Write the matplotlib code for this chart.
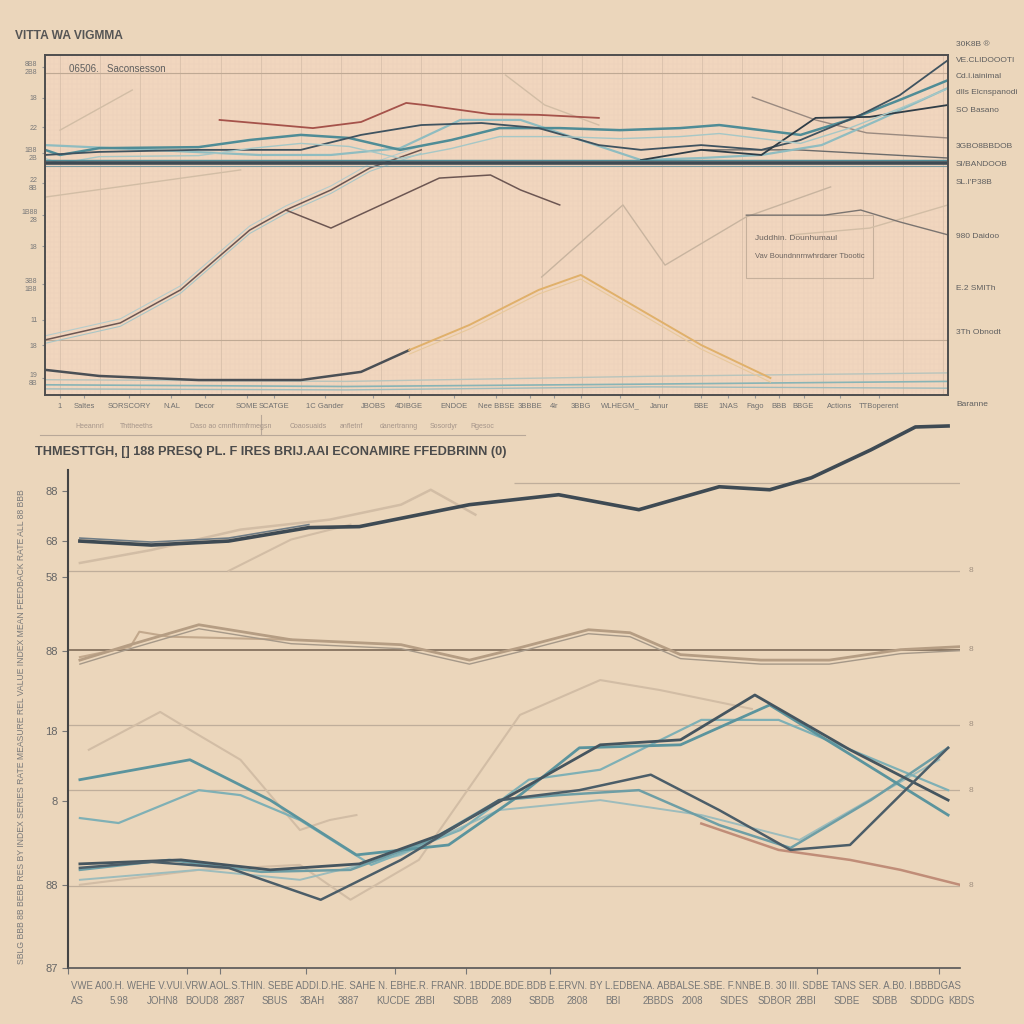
import numpy as np
import matplotlib.pyplot as plt
from matplotlib.patches import Rectangle

plt.rcParams['font.family'] = ['Liberation Sans', 'DejaVu Sans']

BG = '#ebd6bb'
PANEL = '#f1d6be'
DARK = '#3e4a53'
TEAL = '#4f8c96'
LTEAL = '#88b4b6'
TAN = '#b59d83'
FAINT = '#d2bda5'

# ---------------- top panel data (x: 0-30, y: 0-100) ----------------
top_flat_y = 68.2
t_red_x = [5.8, 8.9, 10.5, 12.0, 12.6, 14.8, 16.4, 18.4]
t_red_y = [80.9, 78.5, 80.3, 85.9, 85.3, 82.6, 82.4, 81.5]
t_teal_x = [0, 0.5, 1.8, 5.1, 6.8, 8.5, 10.1, 11.8, 13.5, 15.1, 17.1, 19.1, 21.1, 22.4, 25.1, 26.7, 28.4, 30.0]
t_teal_y = [72.1, 70.6, 72.6, 72.9, 75.0, 76.5, 75.6, 72.1, 75.0, 78.5, 78.5, 77.9, 78.5, 79.4, 76.5, 80.9, 86.8, 92.6]
t_slate_x = [0, 1.8, 5.1, 8.5, 10.5, 12.5, 14.5, 16.4, 18.4, 19.8, 21.8, 23.8, 25.1, 27.1, 28.4, 30.0]
t_slate_y = [70.6, 71.5, 72.1, 72.1, 76.5, 79.4, 80.0, 78.5, 73.5, 72.1, 73.5, 72.1, 75.0, 82.4, 88.2, 98.5]
t_light_x = [0, 3.5, 7.1, 9.5, 11.8, 13.8, 15.8, 17.8, 19.8, 21.8, 23.8, 25.8, 27.7, 30.0]
t_light_y = [73.5, 72.1, 70.6, 70.6, 72.6, 80.9, 80.9, 75.0, 69.1, 69.7, 70.6, 73.5, 80.9, 90.3]
t_dark2_x = [19.8, 21.8, 23.8, 25.6, 27.4, 30.0]
t_dark2_y = [69.1, 72.1, 70.6, 81.5, 81.8, 85.3]
t_gray_x = [23.5, 25.6, 27.3, 30.0]
t_gray_y = [87.6, 80.9, 77.1, 75.6]
t_gray2_x = [21.8, 25.0, 30.0]
t_gray2_y = [72.1, 72.1, 69.7]
t_rise_x = [0, 2.5, 4.5, 6.8, 8.0, 9.5, 10.8, 12.5]
t_rise_y = [16.2, 21.2, 30.9, 48.5, 54.4, 60.3, 66.8, 72.1]
t_v_x = [8.0, 9.5, 13.1, 14.8, 15.8, 17.1]
t_v_y = [54.4, 49.1, 63.8, 64.7, 60.3, 55.9]
t_low_x = [0, 1.8, 5.1, 8.5, 10.5, 12.1]
t_low_y = [7.4, 5.6, 4.4, 4.4, 6.8, 13.2]
t_orange_x = [12.1, 14.1, 16.4, 17.8, 19.8, 21.8, 24.1]
t_orange_y = [13.2, 20.6, 30.9, 35.3, 25.0, 14.7, 5.0]
t_box_x = [23.3, 25.9, 27.1, 28.4, 30.0]
t_box_y = [52.9, 52.9, 54.4, 50.9, 47.1]
t_mid_x = [16.5, 19.2, 20.6, 23.3, 26.1]
t_mid_y = [34.7, 55.9, 38.2, 52.4, 61.2]
t_faint_a = ([0.5, 2.9], [77.9, 89.7])
t_faint_b = ([15.3, 16.6, 18.4], [94.1, 85.3, 79.4])
t_faint_c = ([24.8, 27.4, 30.0], [47.1, 49.1, 55.9])
t_faint_d = ([0, 6.5], [58.2, 66.2])
t_base_x = [0, 10, 20, 30]
t_base_1 = [3.0, 2.5, 3.2, 4.0]
t_base_2 = [1.8, 1.5, 2.4, 2.0]
t_base_3 = [4.5, 4.0, 5.5, 6.5]

top_xtick_pos = [0.5, 1.3, 2.8, 4.2, 5.3, 6.7, 7.6, 9.3, 10.9, 12.1, 13.6, 15.0, 16.1, 16.9,
                 17.8, 19.1, 20.4, 21.8, 22.7, 23.6, 24.4, 25.2, 26.4, 27.7]
top_xtick_lab = ['1', 'Saltes', 'SORSCORY', 'N.AL', 'Decor', 'SOME', 'SCATGE', '1C Gander', 'JBOBS',
                 '4DIBGE', 'ENDOE', 'Nee BBSE', '3BBBE', '4lr', '3BBG', 'WLHEGM_', 'Janur', 'BBE',
                 '1NAS', 'Fago', 'BBB', 'BBGE', 'Actions', 'TTBoperent']
top_ytick_pos = [96.5, 87.4, 78.8, 71.2, 62.4, 52.9, 43.8, 32.6, 22.1, 14.7, 5.0]
top_ytick_lab = ['8B8\n2B8', '18', '22', '1B8\n2B', '22\n8B', '1B88\n28', '18', '3B8\n1B8', '11', '18', '19\n8B']
top_right_lab = [('30K8B \u00ae', 45), ('VE.CLIDOOOTI', 60), ('Cd.l.iainimal', 76), ('dlls Elcnspanodi', 93),
                 ('SO Basano', 110), ('3GBO8BBDOB', 146), ('SI/BANDOOB', 165), ('SL.I\'P38B', 183),
                 ('980 Daidoo', 237), ('E.2 SMITh', 289), ('3Th Obnodt', 333), ('Baranne', 405)]
legend_row = [('Heeannrl', 75), ('Thttheeths', 120), ('Daso ao cmnfhrmfrmegsn', 190), ('Coaosuaids', 290),
              ('anfletnf', 340), ('danertranng', 380), ('Sosordyr', 430), ('Rgesoc', 470)]

# ---------------- bottom panel data (x: 0-30, y: 0-110) ----------------
b_main_x = [0.4, 2.8, 5.4, 8.1, 9.8, 13.5, 16.5, 19.2, 21.9, 23.6, 25.0, 27.0, 28.5, 29.6]
b_main_y = [85.7, 84.9, 85.7, 88.4, 88.6, 93.0, 95.0, 92.0, 96.6, 96.0, 98.4, 104.0, 108.6, 108.8]
b_beige1_x = [0.4, 2.8, 5.8, 8.8, 11.2, 12.2, 13.7]
b_beige1_y = [81.3, 83.9, 88.0, 90.0, 93.0, 96.0, 91.0]
b_beige2_x = [5.4, 7.5, 9.5]
b_beige2_y = [79.7, 86.0, 89.0]
b_tan_x = [0.4, 2.1, 4.4, 7.5, 11.2, 13.5, 15.2, 17.5, 18.9, 20.6, 23.3, 25.6, 28.0, 30.0]
b_tan_y = [61.8, 64.9, 68.9, 65.9, 64.9, 61.8, 64.3, 67.9, 67.3, 62.9, 61.8, 61.8, 63.9, 64.5]
b_tan2_x = [0.4, 2.1, 2.4, 3.4, 7.5]
b_tan2_y = [62.4, 64.5, 67.5, 66.5, 65.9]
b_ref_lines = [97.4, 79.7, 48.8, 35.7, 16.5]
b_ref_mid = 63.9
b_sa_x = [0.4, 2.8, 5.4, 8.5, 11.2, 14.5, 17.2, 19.6, 21.9, 24.3, 26.3, 29.6]
b_sa_y = [20.1, 21.3, 20.1, 13.7, 21.7, 33.7, 35.7, 38.8, 31.7, 23.7, 24.7, 44.2]
b_sb_x = [0.4, 3.8, 6.8, 9.8, 12.5, 15.2, 17.9, 20.6, 23.1, 26.3, 29.6]
b_sb_y = [20.9, 21.7, 19.7, 20.9, 26.7, 35.7, 44.8, 45.8, 54.8, 43.8, 33.7]
b_sc_x = [0.4, 4.1, 6.8, 9.7, 12.8, 15.2, 17.2, 20.6, 23.6, 26.6, 29.6]
b_sc_y = [37.8, 41.8, 33.7, 22.7, 24.7, 34.7, 44.2, 44.8, 52.8, 41.8, 30.7]
b_sd_x = [0.4, 1.7, 4.4, 5.8, 7.8, 10.2, 13.2, 15.5, 17.9, 21.3, 23.9, 29.6]
b_sd_y = [30.1, 29.1, 35.7, 34.7, 29.7, 20.7, 27.7, 37.8, 39.8, 49.8, 49.8, 35.7]
b_se_x = [0.4, 3.4, 6.5, 9.5, 12.2, 14.5, 16.5, 19.2, 21.9, 24.3, 27.0, 29.6]
b_se_y = [19.7, 21.7, 19.3, 19.7, 25.7, 33.7, 34.7, 35.7, 28.7, 24.1, 33.7, 44.2]
b_sf_x = [0.4, 4.4, 7.8, 11.2, 14.5, 17.9, 21.3, 24.6, 29.3]
b_sf_y = [17.7, 19.7, 17.7, 22.7, 31.7, 33.7, 30.7, 25.7, 41.8]
b_red_x = [21.3, 23.9, 26.3, 28.0, 30.0]
b_red_y = [29.0, 23.7, 21.7, 19.7, 16.7]
b_faint1_x = [0.4, 4.4, 7.8, 9.5, 11.8, 15.2, 17.9, 19.9, 23.0]
b_faint1_y = [16.7, 19.7, 20.7, 13.7, 21.7, 50.8, 57.8, 55.8, 52.0]
b_faint2_x = [0.7, 3.1, 4.1, 5.8, 7.8, 8.8, 9.7]
b_faint2_y = [43.8, 51.4, 47.8, 41.8, 27.7, 29.7, 30.7]
b_ytick_pos = [95.8, 85.7, 78.5, 63.7, 47.6, 33.5, 16.7, 0]
b_ytick_lab = ['88', '68', '58', '88', '18', '8', '88', '87']
b_xtick_pos = [0.0, 4.0, 5.1, 8.0, 11.0, 13.4, 16.2, 25.2, 29.3]
b_row1 = ('VWE A00.H. WEHE V.VUI.VRW.AOL.S.THIN. SEBE ADDI.D.HE. SAHE N. EBHE.R. FRANR. 1BDDE.BDE.BDB '
          'E.ERVN. BY L.EDBENA. ABBALSE.SBE. F.NNBE.B. 30 III. SDBE TANS SER. A.B0. I.BBBDGAS')
b_row2 = ['AS', '5.98', 'JOHN8', 'BOUD8', '2887', 'SBUS', '3BAH', '3887', 'KUCDE', '2BBI', 'SDBB', '2089',
          'SBDB', '2808', 'BBI', '2BBDS', '2008', 'SIDES', 'SDBOR', '2BBI', 'SDBE', 'SDBB', 'SDDDG', 'KBDS']
b_right_lab = [79.7, 63.9, 48.8, 35.7, 16.5]

fig = plt.figure(figsize=(10.24, 10.24), dpi=100, facecolor=BG)
renderer = fig.canvas.get_renderer()


def fit(t, target_px, vertical=False):
    # shrink a text so that it spans about target_px pixels
    bb = t.get_window_extent(renderer)
    size = bb.height if vertical else bb.width
    t.set_fontsize(t.get_fontsize() * target_px / size)


# ======================= top panel =======================
ax1 = fig.add_axes([45 / 1024, 1 - 395 / 1024, 903 / 1024, 340 / 1024])
ax1.set_facecolor(PANEL)
ax1.set_xlim(0, 30)
ax1.set_ylim(0, 100)
for gx in np.arange(0, 30, 0.15):
    ax1.axvline(gx, color='#ead0b9', lw=0.25, zorder=0)
for gy in np.arange(0, 100, 1.5):
    ax1.axhline(gy, color='#ead0b9', lw=0.25, zorder=0)
for gx in np.arange(0.5, 30, 4 / 3):
    ax1.axvline(gx, color='#d9c0ab', lw=0.6, zorder=0)
for gy in [94.7, 16.2]:
    ax1.axhline(gy, color='#bfa994', lw=0.8, zorder=1)

ax1.plot(*t_faint_a, color=FAINT, lw=1)
ax1.plot(*t_faint_b, color=FAINT, lw=1)
ax1.plot(*t_faint_c, color=FAINT, lw=1)
ax1.plot(*t_faint_d, color=FAINT, lw=1)
ax1.plot(t_mid_x, t_mid_y, color='#c8b49f', lw=1)
ax1.plot(t_base_x, t_base_1, color=LTEAL, lw=1.2)
ax1.plot(t_base_x, t_base_2, color='#9fbcbc', lw=1)
ax1.plot(t_base_x, t_base_3, color='#b8c4bc', lw=1)
for off, c in [(-1.0, '#a9c6c6'), (1.2, '#b6cccb')]:
    ax1.plot(t_rise_x, np.array(t_rise_y) + off, color=c, lw=0.8)
ax1.plot(t_rise_x, t_rise_y, color='#6c5652', lw=1.1)
ax1.plot(t_v_x, t_v_y, color='#6c5652', lw=1.1)
ax1.plot(t_low_x, t_low_y, color='#4a4f55', lw=1.8)
ax1.plot(t_orange_x, t_orange_y, color='#e0b06a', lw=1.4)
ax1.plot(t_orange_x, np.array(t_orange_y) - 1.2, color='#e8c89a', lw=0.8)
ax1.plot(t_box_x, t_box_y, color='#7a7470', lw=1)
ax1.plot(t_gray_x, t_gray_y, color='#9a8a80', lw=1)
ax1.plot(t_gray2_x, t_gray2_y, color='#6b6b6b', lw=1)
ax1.plot(t_red_x, t_red_y, color='#a5524a', lw=1.3)
ax1.plot(t_light_x, t_light_y, color='#8fbcc0', lw=1.6)
ax1.plot(t_teal_x, t_teal_y, color=TEAL, lw=1.8)
ax1.plot(t_slate_x, t_slate_y, color='#3f5360', lw=1.3)
ax1.plot(t_dark2_x, t_dark2_y, color='#2f3d47', lw=1.3)
ax1.plot(t_teal_x, np.array(t_teal_y) - 2.5, color='#a6c7c6', lw=1.0)
ax1.axhline(top_flat_y + 0.9, color=TEAL, lw=1.0)
ax1.axhline(top_flat_y, color=DARK, lw=2.6)
ax1.axhline(top_flat_y - 0.9, color='#7a9aa0', lw=0.8)

ax1.add_patch(Rectangle((23.3, 34.5), 4.2, 18.4, facecolor='none', edgecolor='#c6b09c', lw=0.8))
ax1.text(23.6, 45.6, 'Juddhin. Dounhumaul', fontsize=6, color='#6d6560')
ax1.text(23.6, 40.2, 'Vav Boundnnrnwhrdarer Tbootic', fontsize=5.5, color='#6d6560')
ax1.text(0.8, 97.5, '06506.   Saconsesson', fontsize=7, color='#5e5e5e', va='top')

ax1.set_xticks(top_xtick_pos, top_xtick_lab, fontsize=5.5, color='#707070')
ax1.set_yticks(top_ytick_pos, top_ytick_lab, fontsize=5, color='#7a7a7a')
ax1.tick_params(axis='both', length=2, color='#999')
for s in ax1.spines.values():
    s.set_color('#4e4e4e')
    s.set_linewidth(1.4)

t = fig.text(15 / 1024, 1 - 36 / 1024, 'VITTA WA VIGMMA', fontsize=11, fontweight='bold', color='#555',
             va='center')
fit(t, 108)
for lab, py in top_right_lab:
    fig.text(956 / 1024, 1 - py / 1024, lab, fontsize=6, color='#5f5f5f', va='center')
for lab, px in legend_row:
    fig.text(px / 1024, 1 - 426 / 1024, lab, fontsize=5, color='#a5958a', va='center')
fig.add_artist(plt.Line2D([40 / 1024, 525 / 1024], [1 - 435 / 1024] * 2, color='#b8a898', lw=0.8))
fig.add_artist(plt.Line2D([261 / 1024] * 2, [1 - 415 / 1024, 1 - 435 / 1024], color='#b8a898', lw=0.8))

# ======================= bottom panel =======================
ax2 = fig.add_axes([68 / 1024, 1 - 968 / 1024, 892 / 1024, 548 / 1024])
ax2.set_facecolor('none')
ax2.set_xlim(0, 30)
ax2.set_ylim(0, 110)

ax2.hlines(b_ref_lines[0], 15.0, 30.2, color='#bfae9b', lw=0.9)
ax2.hlines(b_ref_lines[1:], 0, 30, color='#bfae9b', lw=0.9)
ax2.hlines(b_ref_mid, 0, 30, color='#7d6a58', lw=1.2)

ax2.plot(b_faint2_x, b_faint2_y, color=FAINT, lw=1.5)
ax2.plot(b_faint1_x, b_faint1_y, color=FAINT, lw=1.5)
ax2.plot(b_beige1_x, b_beige1_y, color=FAINT, lw=1.8)
ax2.plot(b_beige2_x, b_beige2_y, color=FAINT, lw=1.5)
ax2.plot(b_tan2_x, b_tan2_y, color='#c2a88c', lw=1.5)
ax2.plot(b_tan_x, b_tan_y, color=TAN, lw=2)
ax2.plot(b_tan_x, np.array(b_tan_y) - 0.8, color='#a59888', lw=1)
ax2.plot(b_red_x, b_red_y, color='#c08d78', lw=1.8)
ax2.plot(b_sf_x, b_sf_y, color='#9dbcbc', lw=1.4)
ax2.plot(b_sd_x, b_sd_y, color='#7fb0b5', lw=1.6)
ax2.plot(b_se_x, b_se_y, color='#6e9ea5', lw=1.8)
ax2.plot(b_sc_x, b_sc_y, color='#5b949d', lw=2)
ax2.plot(b_sb_x, b_sb_y, color='#45555f', lw=2)
ax2.plot(b_sa_x, b_sa_y, color='#4b5d68', lw=1.8)
ax2.plot(b_main_x[:4], np.array(b_main_y[:4]) + 0.6, color='#6f7c85', lw=1.2)
ax2.plot(b_main_x, b_main_y, color=DARK, lw=2.6)

ax2.spines['top'].set_visible(False)
ax2.spines['right'].set_visible(False)
ax2.spines['left'].set_bounds(0, 100)
ax2.spines['left'].set_color('#444')
ax2.spines['left'].set_linewidth(1.5)
ax2.spines['bottom'].set_color('#555')
ax2.spines['bottom'].set_linewidth(1.2)
ax2.set_yticks(b_ytick_pos, b_ytick_lab, fontsize=8, color='#666')
ax2.set_xticks(b_xtick_pos, [''] * len(b_xtick_pos))
ax2.tick_params(axis='both', length=4, color='#777')

t = ax2.text(0.1, -0.033, b_row1, transform=ax2.get_xaxis_transform(), fontsize=8, color='#777',
             va='center')
fit(t, 895)
for word, xp in zip(b_row2, np.linspace(0.1, 29.6, len(b_row2))):
    ax2.text(xp, -0.060, word, transform=ax2.get_xaxis_transform(), fontsize=7, color='#777', va='center')
for yv in b_right_lab:
    ax2.text(30.3, yv, '8', fontsize=6, color='#a09080', va='center')

t = fig.text(35 / 1024, 1 - 452 / 1024, 'THMESTTGH, [] 188 PRESQ PL. F IRES BRIJ.AAI ECONAMIRE FFEDBRINN (0)',
             fontsize=11, fontweight='bold', color='#4b4b4b', va='center')
fit(t, 470)
t = fig.text(22 / 1024, 1 - 727 / 1024,
             'SBLG BBB 8B BEBB RES BY INDEX SERIES RATE MEASURE REL VALUE INDEX MEAN FEEDBACK RATE ALL 88 BBB',
             fontsize=7, color='#7a7a7a', rotation=90, ha='center', va='center')
fit(t, 475, vertical=True)

fig.savefig('out.png', dpi=100, facecolor=BG)
